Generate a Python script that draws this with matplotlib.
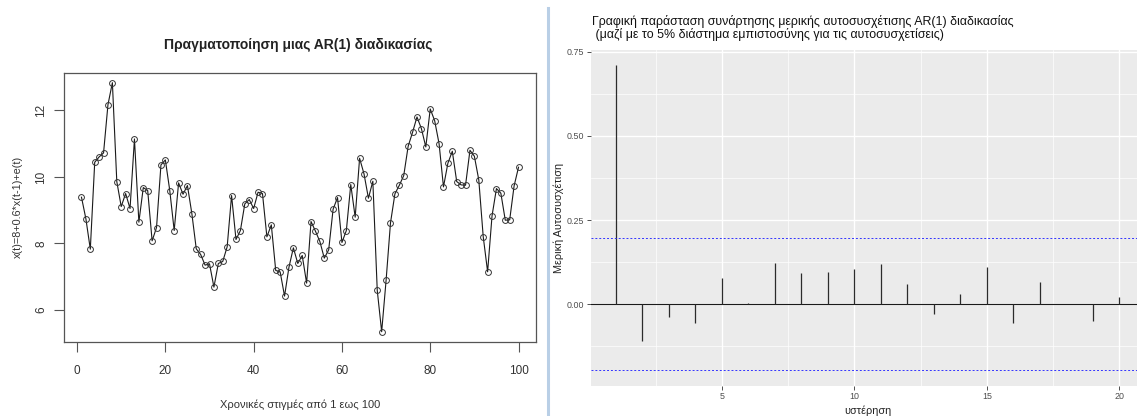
import numpy as np
import matplotlib
matplotlib.use('Agg')
import matplotlib.pyplot as plt
from matplotlib.lines import Line2D

# Values of the simulated AR(1) series, t = 1..100
t_values = list(range(1, 101))
x_values = [
    9.39, 8.74, 7.83, 10.44, 10.60, 10.72, 12.17, 12.83, 9.86, 9.11,
    9.50, 9.05, 11.14, 8.64, 9.68, 9.59, 8.08, 8.48, 10.36, 10.51,
    9.59, 8.39, 9.82, 9.48, 9.74, 8.90, 7.84, 7.67, 7.35, 7.39,
    6.69, 7.40, 7.46, 7.90, 9.44, 8.12, 8.39, 9.19, 9.32, 9.05,
    9.54, 9.50, 8.20, 8.56, 7.19, 7.15, 6.42, 7.29, 7.87, 7.40,
    7.64, 6.81, 8.66, 8.37, 8.06, 7.56, 7.81, 9.03, 9.38, 8.03,
    8.39, 9.77, 8.79, 10.56, 10.09, 9.36, 9.87, 6.59, 5.35, 6.89,
    8.62, 9.49, 9.75, 10.04, 10.92, 11.34, 11.80, 11.45, 10.90, 12.04,
    11.69, 11.00, 9.70, 10.41, 10.77, 9.86, 9.76, 9.75, 10.80, 10.62,
    9.91, 8.21, 7.15, 8.83, 9.65, 9.51, 8.70, 8.71, 9.73, 10.29,
]
left_xticks = [0, 20, 40, 60, 80, 100]
left_yticks = [6, 8, 10, 12]

# Partial autocorrelations, lags 1..20
lags = list(range(1, 21))
pacf_values = [
    0.711, -0.109, -0.039, -0.056, 0.078, 0.003, 0.122, 0.092, 0.097, 0.104,
    0.120, 0.059, -0.030, 0.029, 0.112, -0.055, 0.067, 0.002, -0.050, 0.022,
]
conf_limit = 0.196
right_xticks = [5, 10, 15, 20]
right_yticks = [0.0, 0.25, 0.50, 0.75]
right_yticklabels = ['0.00', '0.25', '0.50', '0.75']


def draw_plot():
    plt.rcParams['font.family'] = ['Liberation Sans', 'DejaVu Sans']
    W, H = 1137, 416
    fig = plt.figure(figsize=(W / 100, H / 100), dpi=100)

    # ---- left: base-R style time series plot ----
    ax1 = fig.add_axes([64 / W, 1 - 341.7 / H, (536 - 64) / W, (341.7 - 72.7) / H])
    ax1.plot(t_values, x_values, color='#1a1a1a', linewidth=0.8,
             marker='o', markersize=4.2, markerfacecolor='none',
             markeredgecolor='#333333', markeredgewidth=0.7)
    ax1.margins(x=0.04, y=0.04)
    ax1.set_xticks(left_xticks)
    ax1.set_yticks(left_yticks)
    ax1.set_yticklabels([str(v) for v in left_yticks], rotation=90, va='center')
    ax1.tick_params(axis='both', direction='out', length=7, width=0.8,
                    color='#555555', labelcolor='#333333', labelsize=8.5)
    ax1.tick_params(axis='x', pad=10)
    ax1.tick_params(axis='y', pad=5)
    for s in ax1.spines.values():
        s.set_color('#555555')
        s.set_linewidth(0.9)
    fig.text(298 / W, 1 - 45 / H, 'Πραγματοποίηση μιας AR(1) διαδικασίας',
             ha='center', va='center', fontsize=10, fontweight='bold', color='#222222')
    fig.text(300 / W, 1 - 405 / H, 'Χρονικές στιγμές από 1 εως 100',
             ha='center', va='center', fontsize=8, color='#333333')
    fig.text(18 / W, 1 - 207 / H, 'x(t)=8+0.6*x(t-1)+e(t)', rotation=90,
             ha='center', va='center', fontsize=7.8, color='#333333')

    # thin separator between the two panes
    fig.add_artist(Line2D([548 / W, 548 / W], [0, 1 - 8 / H],
                          color='#b9cfe6', linewidth=2.2))

    # ---- right: ggplot style partial ACF ----
    ax2 = fig.add_axes([590.7 / W, 1 - 385.5 / H, (1144.5 - 590.7) / W, (385.5 - 49.7) / H])
    ax2.set_facecolor('#EBEBEB')
    ax2.set_xlim(0.05, 20.95)
    ax2.set_ylim(-0.196 - 0.0454, 0.711 + 0.0454)
    ax2.set_xticks(right_xticks)
    ax2.set_xticks([2.5, 7.5, 12.5, 17.5], minor=True)
    ax2.set_yticks(right_yticks)
    ax2.set_yticklabels(right_yticklabels)
    ax2.set_yticks([-0.125, 0.125, 0.375, 0.625], minor=True)
    ax2.grid(which='major', color='white', linewidth=1.0)
    ax2.grid(which='minor', color='white', linewidth=0.5)
    ax2.set_axisbelow(True)
    ax2.tick_params(which='major', direction='out', length=3, width=0.6,
                    color='#333333', labelcolor='#4d4d4d', labelsize=6.4, pad=2)
    ax2.tick_params(which='minor', length=0)
    for s in ax2.spines.values():
        s.set_visible(False)

    ax2.axhline(0, color='#1a1a1a', linewidth=0.8)
    ax2.vlines(lags, 0, pacf_values, color='#2b2b2b', linewidth=0.9)
    ax2.axhline(conf_limit, color='#3333ff', linewidth=0.7, linestyle=(0, (2, 2)))
    ax2.axhline(-conf_limit, color='#3333ff', linewidth=0.7, linestyle=(0, (2, 2)))

    ax2.set_ylabel('Μερική Αυτοσυσχέτιση', fontsize=7.8, color='#222222', labelpad=1.5)
    ax2.set_xlabel('υστέρηση', fontsize=7.8, color='#222222', labelpad=3)
    fig.text(591.7 / W, 1 - 14.5 / H,
             'Γραφική παράσταση συνάρτησης μερικής αυτοσυσχέτισης AR(1) διαδικασίας\n'
             ' (μαζί με το 5% διάστημα εμπιστοσύνης για τις αυτοσυσχετίσεις)',
             ha='left', va='top', fontsize=8.9, color='#111111', linespacing=1.05)

    fig.savefig('out.png', dpi=100)
    return ax1, ax2


if __name__ == '__main__':
    draw_plot()
